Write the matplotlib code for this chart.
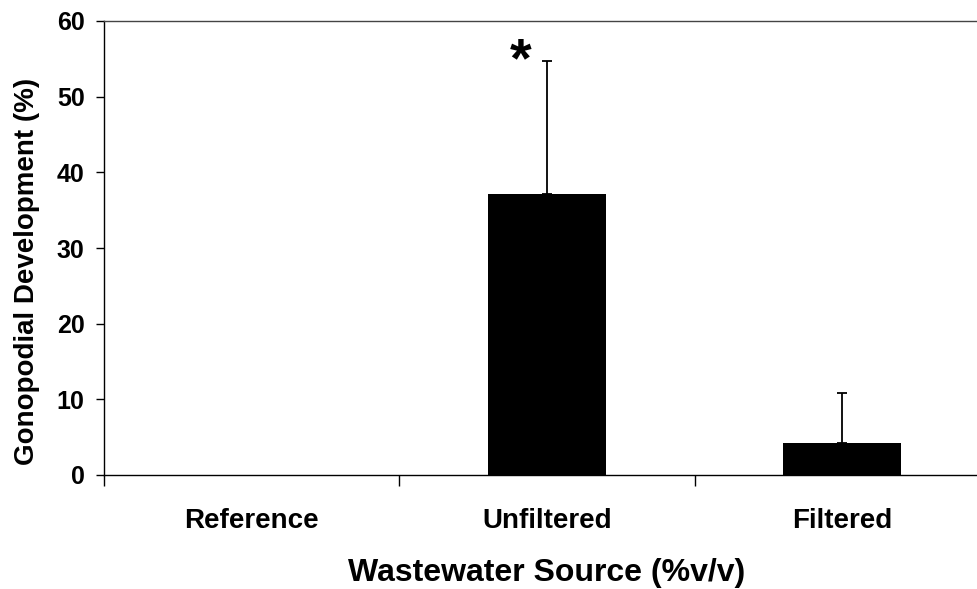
import numpy as np
import matplotlib.pyplot as plt

plt.rcParams['font.family'] = ['Liberation Sans', 'DejaVu Sans']
plt.rcParams['font.weight'] = 'bold'

categories = ['Reference', 'Unfiltered', 'Filtered']
means = [0.0, 37.1, 4.2]
upper_err = [0.0, 17.6, 6.6]
significant = [False, True, False]

fig = plt.figure(figsize=(9.77, 5.89), dpi=100)
ax = fig.add_axes([104/977, 114/589, 886/977, 454/589])

x = np.arange(len(categories))
ax.bar(x, means, width=0.4, color='black', zorder=2)
err_x = [xi for xi, e in zip(x, upper_err) if e > 0]
err_y = [m for m, e in zip(means, upper_err) if e > 0]
err_v = [e for e in upper_err if e > 0]
ax.errorbar(err_x, err_y, yerr=[np.zeros(len(err_v)), err_v], fmt='none',
            ecolor='black', elinewidth=1.3, capsize=3.5, capthick=1.3, zorder=1)

for xi, m, e, s in zip(x, means, upper_err, significant):
    if s:
        ax.text(xi - 0.09, m + e - 0.1, '*', ha='center', va='center',
                fontsize=40, fontweight='bold')

ax.set_xlim(-0.5, 2.5)
ax.set_ylim(0, 60)
ax.set_yticks(np.arange(0, 61, 10))
ax.set_xticks(x)
ax.set_xticklabels(categories, fontsize=20, fontweight='bold')
ax.set_xticks([-0.5, 0.5, 1.5, 2.5], minor=True)
ax.tick_params(axis='x', which='major', length=0, pad=24)
ax.tick_params(axis='x', which='minor', length=8, width=1, direction='out')
ax.tick_params(axis='y', length=6, width=1, labelsize=18, pad=8)
for lab in ax.get_yticklabels():
    lab.set_fontweight('bold')

for sp in ax.spines.values():
    sp.set_linewidth(1)
ax.spines['top'].set_color('#444444')

ax.set_xlabel('Wastewater Source (%v/v)', fontsize=23, fontweight='bold', labelpad=17)
ax.set_ylabel('Gonopodial Development (%)', fontsize=20, fontweight='bold')
ax.yaxis.set_label_coords(-0.072, 0.449)

fig.savefig('out.png', dpi=100)
